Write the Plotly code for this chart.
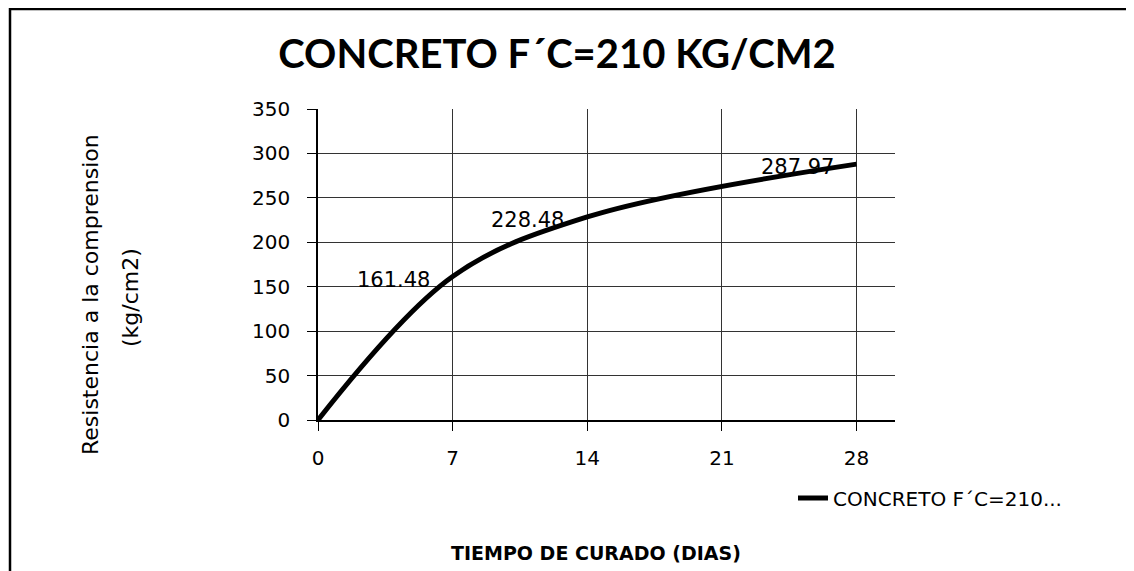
import plotly.graph_objects as go

# ---- data ----
dias = [0, 7, 14, 28]
resistencia = [0, 161.48, 228.48, 287.97]
etiquetas = ["", "161.48", "228.48", "287.97"]
x_ticks = [0, 7, 14, 21, 28]
y_ticks = [0, 50, 100, 150, 200, 250, 300, 350]
serie_leyenda = "CONCRETO F\u00b4C=210..."
titulo = "CONCRETO F\u00b4C=210 KG/CM2"
titulo_x = "TIEMPO DE CURADO (DIAS)"
titulo_y1 = "Resistencia a la comprension"
titulo_y2 = "(kg/cm2)"

# page body has an 8px default margin; work in reference pixels and subtract it
OFF = 8
W, H = 1134 - OFF, 571 - OFF
L, R, T, B = 318 - OFF, 895 - OFF, 109 - OFF, 420 - OFF  # plot area (figure px)
pw, ph = R - L, B - T

def px_x(px):
    return (px - OFF - L) / pw

def px_y(py):
    return (B - (py - OFF)) / ph

fig = go.Figure()
fig.add_trace(go.Scatter(
    x=dias, y=resistencia, mode="lines", name=serie_leyenda,
    line=dict(color="black", width=5, shape="spline", smoothing=1),
    showlegend=True,
))

annotations = []
for xv, yv, t in zip(dias, resistencia, etiquetas):
    if t:
        annotations.append(dict(
            x=xv, y=yv, xref="x", yref="y", text=t, showarrow=False,
            xanchor="right", yanchor="middle", xshift=-21, yshift=-3,
            font=dict(family="DejaVu Sans", size=21, color="black"),
        ))

annotations.append(dict(
    x=px_x(596), y=px_y(553), xref="paper", yref="paper", text=titulo_x,
    showarrow=False, xanchor="center", yanchor="middle",
    font=dict(family="DejaVu Sans", size=19, color="black", weight="bold"),
))
annotations.append(dict(
    x=px_x(90), y=px_y(295), xref="paper", yref="paper", text=titulo_y1,
    showarrow=False, xanchor="center", yanchor="middle", textangle=-90,
    font=dict(family="DejaVu Sans", size=22, color="black"),
))
annotations.append(dict(
    x=px_x(130), y=px_y(297), xref="paper", yref="paper", text=titulo_y2,
    showarrow=False, xanchor="center", yanchor="middle", textangle=-90,
    font=dict(family="DejaVu Sans", size=22, color="black"),
))

shapes = [dict(
    type="rect", xref="paper", yref="paper",
    x0=px_x(10), x1=px_x(1130), y0=px_y(590), y1=px_y(9),
    line=dict(color="black", width=2.5), fillcolor="rgba(0,0,0,0)", layer="above",
)]

fig.update_layout(
    width=W, height=H,
    margin=dict(l=L, r=W - R, t=T, b=H - B),
    paper_bgcolor="white", plot_bgcolor="white",
    title=dict(text=titulo, x=(557 - OFF) / W, xref="container", xanchor="center",
               y=1 - (54 - OFF) / H, yref="container", yanchor="middle",
               font=dict(family="Lato", size=40, color="black", weight="bold")),
    xaxis=dict(range=[0, 30], tickvals=x_ticks, ticktext=[str(v) for v in x_ticks],
               showgrid=True, gridcolor="#333", gridwidth=1,
               showline=True, linecolor="black", linewidth=1.5,
               ticks="outside", ticklen=9, tickcolor="black",
               ticklabelstandoff=10, zeroline=False,
               tickfont=dict(family="DejaVu Sans", size=20, color="black")),
    yaxis=dict(range=[0, 350], tickvals=y_ticks,
               showgrid=True, gridcolor="#333", gridwidth=1,
               showline=True, linecolor="black", linewidth=1.5,
               ticks="outside", ticklen=9, tickcolor="black",
               ticklabelstandoff=13, zeroline=False,
               tickfont=dict(family="DejaVu Sans", size=20, color="black")),
    legend=dict(x=px_x(793), y=px_y(498), xanchor="left", yanchor="middle",
                xref="paper", yref="paper", bgcolor="rgba(0,0,0,0)",
                font=dict(family="DejaVu Sans", size=20, color="black")),
    annotations=annotations,
    shapes=shapes,
)

fig.write_html("out.html")
